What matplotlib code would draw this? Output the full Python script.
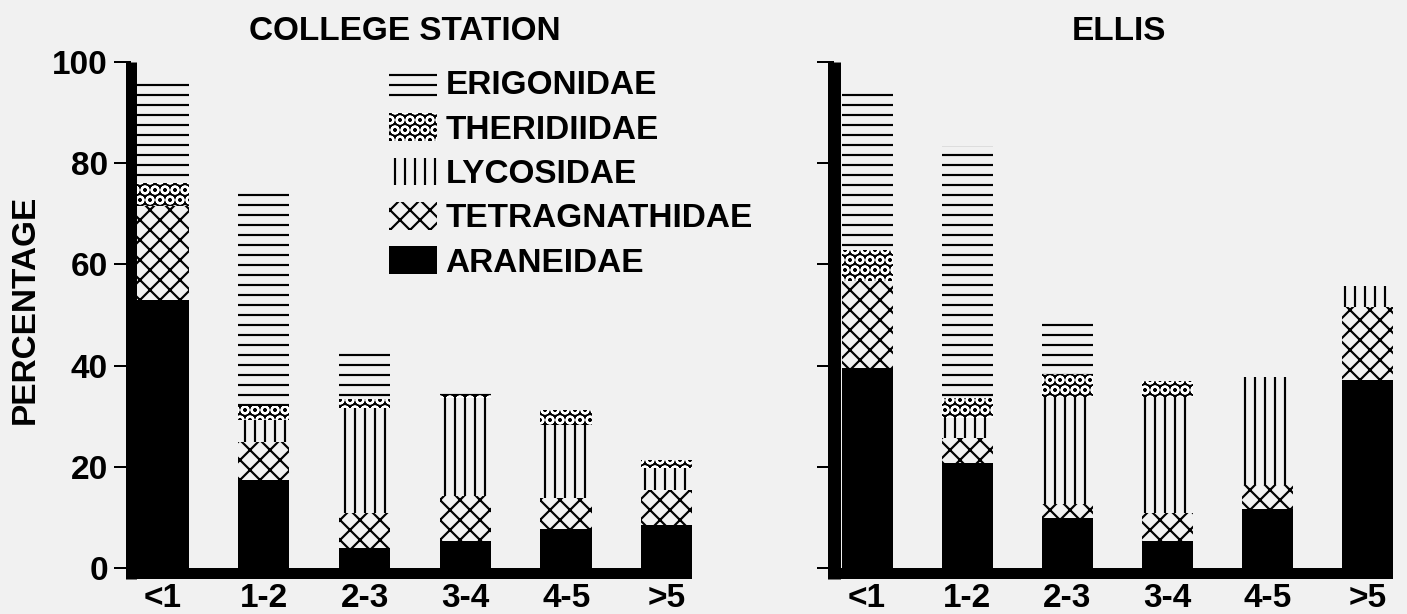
import matplotlib
matplotlib.use("Agg")
import matplotlib.pyplot as plt
import numpy as np

W, H, DPI = 1407, 614, 120
BG = "#f1f1f1"

categories = ["<1", "1-2", "2-3", "3-4", "4-5", ">5"]
families = ["ARANEIDAE", "TETRAGNATHIDAE", "LYCOSIDAE", "THERIDIIDAE", "ERIGONIDAE"]

# percentages per family (bottom of the stack first)
college_araneidae = [53.0, 17.3, 3.9, 5.3, 7.6, 8.5]
college_tetragnathidae = [18.5, 7.5, 6.9, 8.9, 6.3, 6.9]
college_lycosidae = [0.0, 4.5, 20.9, 19.3, 14.4, 4.4]
college_theridiidae = [4.5, 2.7, 1.7, 0.6, 3.0, 1.6]
college_erigonidae = [21.0, 43.2, 10.3, 1.0, 0.0, 0.0]

ellis_araneidae = [39.6, 20.8, 9.8, 5.3, 11.7, 37.1]
ellis_tetragnathidae = [17.2, 4.8, 2.8, 5.5, 4.6, 14.5]
ellis_lycosidae = [0.0, 4.1, 21.2, 23.0, 21.5, 4.2]
ellis_theridiidae = [6.0, 3.8, 4.5, 3.1, 0.0, 0.0]
ellis_erigonidae = [31.7, 49.8, 10.9, 0.0, 0.0, 0.0]

yticks = [0, 20, 40, 60, 80, 100]

styles = {
    "ARANEIDAE": dict(facecolor="black", edgecolor="black", hatch=None),
    "TETRAGNATHIDAE": dict(facecolor="none", edgecolor="black", hatch="xx"),
    "LYCOSIDAE": dict(facecolor="none", edgecolor="black", hatch="||"),
    "THERIDIIDAE": dict(facecolor="black", edgecolor="white", hatch="OO"),
    "ERIGONIDAE": dict(facecolor="none", edgecolor="black", hatch="--"),
}

plt.rcParams["font.family"] = ["Liberation Sans", "DejaVu Sans"]
plt.rcParams["font.weight"] = "bold"
plt.rcParams["hatch.linewidth"] = 1.3

fig = plt.figure(figsize=(W / DPI, H / DPI), dpi=DPI, facecolor=BG)


def draw_panel(ax, series, spine_px, xlim, show_labels):
    ax.set_facecolor(BG)
    x = np.arange(len(categories))
    bottom = np.zeros(len(categories))
    handles = {}
    for name, values in zip(families, series):
        values = np.array(values)
        st = styles[name]
        bars = ax.bar(x, values, 0.51, bottom=bottom, facecolor=st["facecolor"],
                      edgecolor=st["edgecolor"], hatch=st["hatch"], linewidth=0)
        handles[name] = bars
        bottom = bottom + values
    ax.set_xlim(*xlim)
    ax.set_ylim(-2.2, 100)
    ax.axhspan(-2.2, 0, color="black", linewidth=0)
    for side in ["top", "right", "bottom"]:
        ax.spines[side].set_visible(False)
    ax.spines["left"].set_linewidth(spine_px * 72 / DPI)
    ax.spines["left"].set_capstyle("butt")
    ax.spines["left"].set_bounds(-2.2, 100)
    ax.set_xticks(x)
    ax.set_xticklabels(categories)
    ax.set_yticks(yticks)
    ax.tick_params(axis="x", length=0, pad=2.5, labelsize=20)
    ax.tick_params(axis="y", direction="out", length=10.5, width=1.2, pad=3,
                   labelsize=20, labelleft=show_labels)
    return handles


ax1 = fig.add_axes([130.5 / W, 1 - 579 / H, 561.5 / W, (579 - 62) / H])
ax2 = fig.add_axes([834 / W, 1 - 579 / H, 559 / W, (579 - 62) / H])

h = draw_panel(ax1, [college_araneidae, college_tetragnathidae, college_lycosidae,
                     college_theridiidae, college_erigonidae], 11, (-0.322, 5.248), True)
draw_panel(ax2, [ellis_araneidae, ellis_tetragnathidae, ellis_lycosidae,
                 ellis_theridiidae, ellis_erigonidae], 13, (-0.33, 5.25), False)

legend_order = ["ERIGONIDAE", "THERIDIIDAE", "LYCOSIDAE", "TETRAGNATHIDAE", "ARANEIDAE"]
ax1.legend([h[n] for n in legend_order], legend_order, loc="upper left",
           bbox_to_anchor=(389 / W, 1 - 69 / H), bbox_transform=fig.transFigure,
           frameon=False, fontsize=20, handlelength=1.45, handleheight=0.9,
           handletextpad=0.25, labelspacing=0.36, borderpad=0, borderaxespad=0)

fig.text(405 / W, 1 - 31 / H, "COLLEGE STATION", ha="center", va="center", fontsize=20)
fig.text(1119 / W, 1 - 31 / H, "ELLIS", ha="center", va="center", fontsize=20)
fig.text(25 / W, 1 - 309 / H, "PERCENTAGE", ha="center", va="center",
         rotation=90, fontsize=20)

fig.savefig("out.png", dpi=DPI, facecolor=BG)
